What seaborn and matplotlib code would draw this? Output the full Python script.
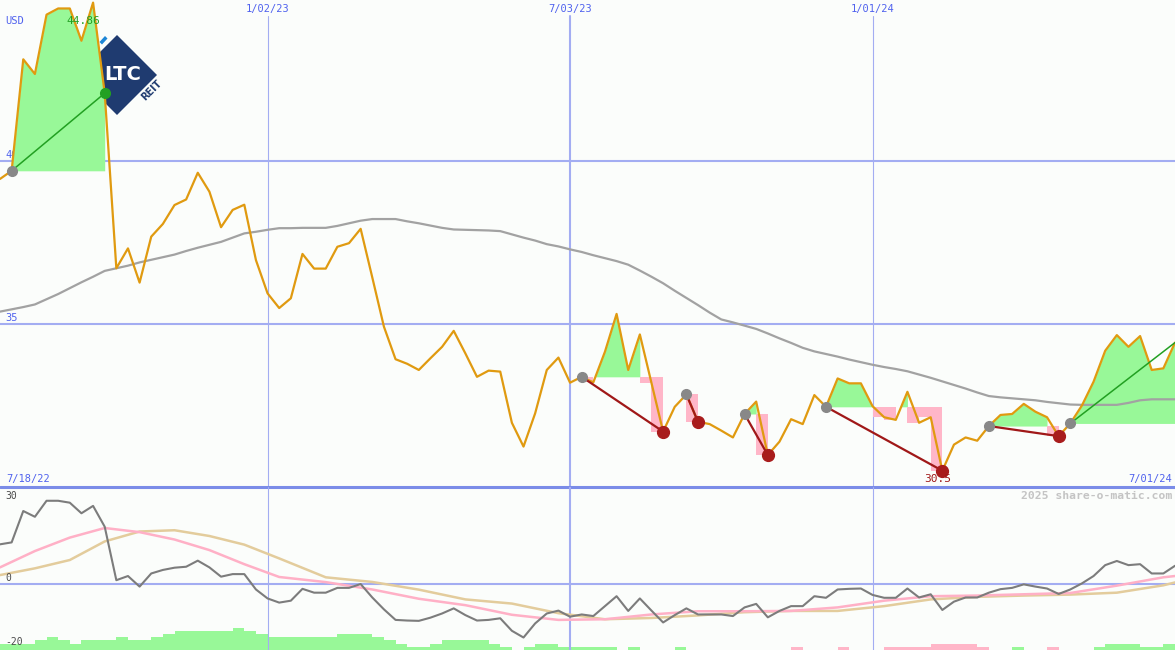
import numpy as np
import pandas as pd
import seaborn as sns
import matplotlib.pyplot as plt
import matplotlib.dates as mdates
from matplotlib.patches import Polygon

# weekly close, USD, one value per monday from 2022-07-25
price = [39.45, 39.70, 43.12, 42.67, 44.49, 44.68, 44.68, 43.69, 44.86, 42.08,
         36.71, 37.32, 36.27, 37.68, 38.07, 38.65, 38.82, 39.64, 39.06, 37.97,
         38.50, 38.66, 36.96, 35.94, 35.49, 35.79, 37.15, 36.70, 36.70, 37.37,
         37.48, 37.92, 36.43, 34.92, 33.92, 33.78, 33.59, 33.95, 34.30, 34.79,
         34.10, 33.38, 33.57, 33.54, 31.97, 31.24, 32.26, 33.59, 33.97, 33.20,
         33.38, 33.21, 34.15, 35.31, 33.59, 34.68, 33.19, 31.70, 32.46, 32.84,
         32.00, 31.93, 31.73, 31.52, 32.24, 32.62, 30.98, 31.39, 32.08, 31.93,
         32.82, 32.46, 33.33, 33.18, 33.18, 32.48, 32.14, 32.06, 32.92, 31.97,
         32.14, 30.50, 31.30, 31.52, 31.42, 31.87, 32.21, 32.24, 32.55, 32.31,
         32.14, 31.56, 31.95, 32.50, 33.23, 34.18, 34.66, 34.30, 34.63, 33.59,
         33.64, 34.43]

# slow moving average of the close (grey line)
ma_line = [35.38, 35.45, 35.52, 35.60, 35.76, 35.92, 36.10, 36.28, 36.45, 36.63,
           36.71, 36.79, 36.89, 36.97, 37.05, 37.13, 37.24, 37.34, 37.43, 37.52,
           37.65, 37.78, 37.83, 37.89, 37.94, 37.94, 37.95, 37.95, 37.95, 38.01,
           38.09, 38.17, 38.22, 38.22, 38.22, 38.15, 38.09, 38.02, 37.95, 37.90,
           37.89, 37.88, 37.87, 37.85, 37.75, 37.65, 37.56, 37.45, 37.38, 37.29,
           37.21, 37.11, 37.02, 36.93, 36.82, 36.64, 36.45, 36.25, 36.02, 35.80,
           35.58, 35.35, 35.14, 35.05, 34.95, 34.85, 34.71, 34.56, 34.42, 34.27,
           34.16, 34.08, 34.00, 33.91, 33.83, 33.75, 33.68, 33.62, 33.55, 33.45,
           33.35, 33.24, 33.13, 33.02, 32.90, 32.79, 32.75, 32.72, 32.69, 32.66,
           32.61, 32.57, 32.53, 32.52, 32.52, 32.52, 32.52, 32.58, 32.66, 32.69,
           32.69, 32.69]

# oscillator in the lower panel (dark grey)
momentum = [12.4, 13.0, 22.8, 21.0, 26.0, 26.0, 25.4, 22.1, 24.4, 17.9,
            1.2, 2.5, -0.8, 3.3, 4.4, 5.1, 5.4, 7.3, 5.2, 2.3,
            3.1, 3.1, -1.7, -4.5, -5.8, -5.2, -1.5, -2.7, -2.7, -1.2,
            -1.2, 0.0, -4.2, -7.9, -11.2, -11.4, -11.5, -10.5, -9.2, -7.6,
            -9.7, -11.4, -11.2, -10.7, -14.6, -16.7, -12.3, -9.2, -8.3, -10.2,
            -9.5, -10.0, -6.9, -3.8, -8.4, -4.5, -8.3, -12.0, -9.7, -7.6,
            -9.5, -9.5, -9.5, -10.0, -7.3, -6.2, -10.4, -8.4, -6.9, -6.9,
            -3.8, -4.3, -1.7, -1.5, -1.4, -3.4, -4.3, -4.3, -1.4, -4.2,
            -3.2, -8.1, -5.5, -4.2, -4.2, -2.7, -1.6, -1.2, -0.1, -0.8,
            -1.4, -3.1, -1.7, 0.2, 2.5, 5.9, 7.2, 5.9, 6.2, 3.3,
            3.3, 5.7]

# the two smooth averages of the oscillator, read every few weeks
slow_weeks = [0, 3, 6, 9, 12, 15, 18, 21, 24, 28, 32, 36, 40, 44, 48,
              52, 56, 60, 64, 68, 72, 76, 80, 84, 88, 92, 96, 100, 101]
slow_pink = [5.2, 10.3, 14.5, 17.5, 16.2, 13.9, 10.6, 6.2, 2.2, 0.6,
             -1.7, -4.6, -6.6, -9.6, -11.2, -11.0, -9.5, -8.5, -8.5, -8.4,
             -7.3, -5.2, -3.8, -3.6, -3.2, -2.8, -0.5, 2.1, 2.5]
slow_tan = [2.8, 4.9, 7.5, 13.3, 16.4, 16.8, 15.0, 12.3, 8.0, 2.1,
            0.65, -1.75, -4.8, -6.1, -9.1, -11.0, -10.6, -9.8, -8.8, -8.4,
            -8.4, -6.9, -4.8, -4.0, -3.6, -3.3, -2.7, -0.4, 0.5]

# weekly histogram at the foot of the lower panel (+ green, - pink)
hist = [2, 2, 2, 3, 4, 3, 2, 3, 3, 3,
        4, 3, 3, 4, 5, 6, 6, 6, 6, 6,
        7, 6, 5, 4, 4, 4, 4, 4, 4, 5,
        5, 5, 4, 3, 2, 1, 1, 2, 3, 3,
        3, 3, 2, 1, 0, 1, 2, 2, 1, 1,
        1, 1, 1, 0, 1, 0, 0, 0, 1, 0,
        0, 0, 0, 0, 0, 0, 0, 0, -1, 0,
        0, 0, -1, 0, 0, 0, -1, -1, -1, -1,
        -2, -2, -2, -2, -1, 0, 0, 1, 0, 0,
        -1, 0, 0, 0, 1, 2, 2, 2, 1, 1,
        2]

# signals: entry week index, exit week index (last one still open)
trade_start = [1, 50, 59, 64, 71, 85, 92]
trade_end = [9, 57, 60, 66, 81, 91, 101]

price_grid = [35, 40]
osc_grid = [30, 0, -20]
date_marks = ["2023-01-02", "2023-07-03", "2024-01-01"]
date_labels = ["1/02/23", "7/03/23", "1/01/24"]
range_labels = ["7/18/22", "7/01/24"]

weeks = pd.date_range("2022-07-25", periods=len(price), freq="7D")
xnum = mdates.date2num(weeks)
df = pd.DataFrame({"week": weeks, "price": price, "ma": ma_line, "mom": momentum})
slow = pd.DataFrame({"week": weeks[slow_weeks], "pink": slow_pink, "tan": slow_tan})

BG = "#fbfdfb"
GRID = "#a3adf2"
BLUE_TXT = "#5062ee"
GREEN_FILL = "#98f898"
PINK_FILL = "#ffb6c8"
ORANGE = "#e09a10"
NAVY = "#1f3b70"

sns.set_theme(style="white")
plt.rcParams["font.family"] = ["DejaVu Sans Mono", "DejaVu Sans"]

fig = plt.figure(figsize=(11.75, 6.5), dpi=100, facecolor=BG)

# pixel layer under the price panel: logo and fixed captions
bg = fig.add_axes([0, 0, 1, 1], zorder=0)
bg.set_xlim(0, 1175)
bg.set_ylim(650, 0)
bg.set_axis_off()
bg.add_patch(Polygon([(117, 35), (157, 75), (117, 115), (77, 75)], closed=True, color=NAVY, lw=0))
bg.add_patch(Polygon([(99.5, 42), (105, 36), (107.5, 38.5), (102, 44.5)], closed=True, color="#1d86d6", lw=0))
bg.text(123, 75, "LTC", color="white", fontsize=14, fontweight="bold", family="DejaVu Sans",
        ha="center", va="center")
bg.text(152, 90, "REIT", color=NAVY, fontsize=7, fontweight="bold", family="DejaVu Sans",
        rotation=45, ha="center", va="center")
bg.text(5, 21, "USD", color=BLUE_TXT, fontsize=7.5, va="center")
bg.text(6, 479, range_labels[0], color=BLUE_TXT, fontsize=7.5, va="center")
bg.text(1172, 479, range_labels[1], color=BLUE_TXT, fontsize=7.5, va="center", ha="right")
bg.text(1172, 496, "2025 share-o-matic.com", color="#c4c4c4", fontsize=8.2, fontweight="bold",
        va="center", ha="right")

# ---------------- price panel ----------------
ax1 = fig.add_axes([0, 163 / 650, 1, 487 / 650], zorder=1)
ax1.patch.set_visible(False)

for v in price_grid:
    ax1.axhline(v, color=GRID, lw=1.5, zorder=1)
    ax1.annotate(str(v), xy=(0, v), xycoords=ax1.get_yaxis_transform(), xytext=(5, 6),
                 textcoords="offset pixels", va="center", color=BLUE_TXT, fontsize=7.5, zorder=0)
for k, (d, lab) in enumerate(zip(date_marks, date_labels)):
    dn = mdates.date2num(pd.Timestamp(d))
    ax1.axvline(dn, ymax=1 - 16 / 487, color=GRID, lw=1.5 if k == 1 else 0.8, zorder=1)
    ax1.annotate(lab, xy=(dn, 1), xycoords=ax1.get_xaxis_transform(), xytext=(0, -9),
                 textcoords="offset pixels", ha="center", va="center", color=BLUE_TXT, fontsize=7.5)

# gain / loss shading of each signal: one outline per trade so there are no seams
for s, e in zip(trade_start, trade_end):
    base = price[s]
    gx, gy, px, py = [], [], [], []
    for i in range(s, e):
        x0, x1 = xnum[i], xnum[i + 1]
        p0, p1 = price[i], price[i + 1]
        if p1 >= base:
            if p0 >= base:
                gx += [x0, x1]; gy += [p0, p1]
            else:
                xc = x0 + (base - p0) / (p1 - p0) * (x1 - x0)
                gx += [x0, xc, x1]; gy += [base, base, p1]
            px += [x0, x1]; py += [base, base]
        else:
            gx += [x0, x1]; gy += [base, base]
            px += [x0, x1]; py += [p1, p1]
    ax1.fill_between(gx, gy, base, color=GREEN_FILL, lw=0, zorder=2)
    ax1.fill_between(px, py, base, color=PINK_FILL, lw=0, zorder=2)

sns.lineplot(data=df, x="week", y="ma", color="#a2a2a2", lw=1.6, ax=ax1, zorder=3)
sns.lineplot(data=df, x="week", y="price", color=ORANGE, lw=1.6, ax=ax1, zorder=4)

for s, e in zip(trade_start, trade_end):
    won = price[e] >= price[s]
    ax1.plot(xnum[[s, e]], [price[s], price[e]], color="#22a022" if won else "#a01818",
             lw=1.1 if won else 1.6, zorder=5)
    ax1.plot(xnum[s], price[s], "o", color="#888888", ms=7, zorder=6)
    if e < len(price) - 1:
        ax1.plot(xnum[e], price[e], "o", color="#22a022" if won else "#a81c1c",
                 ms=7 if won else 8.5, zorder=6)

imax = int(np.argmax(price))
imin = int(np.argmin(price))
ax1.annotate(f"{price[imax]:g}", xy=(xnum[imax], price[imax]), xytext=(-9.5, -18.5),
             textcoords="offset pixels", ha="center", va="center", color="#22a022", fontsize=8, zorder=7)
ax1.annotate(f"{price[imin]:g}", xy=(xnum[imin], price[imin]), xytext=(-5, -8.5),
             textcoords="offset pixels", ha="center", va="center", color="#a01818", fontsize=8, zorder=7)

ax1.axhline(30.0, color="#7b8ce8", lw=2.2, zorder=3, clip_on=False)
ax1.set_xlim(xnum[0], xnum[-1])
ax1.set_ylim(30.0, 44.94)
ax1.set_axis_off()

# ---------------- oscillator panel ----------------
ax2 = fig.add_axes([0, 0, 1, 163 / 650], zorder=1)
ax2.patch.set_visible(False)
y_lo, y_hi = -20.6, 30.3

hist_arr = np.array(hist)
ax2.bar(xnum[:-1], np.abs(hist_arr), width=7, align="edge", bottom=y_lo,
        color=[GREEN_FILL if h > 0 else PINK_FILL for h in hist_arr], lw=0,
        antialiased=False, zorder=1)
ax2.axhline(0, color=GRID, lw=1.5, zorder=1)
for k, d in enumerate(date_marks):
    ax2.axvline(mdates.date2num(pd.Timestamp(d)), color=GRID, lw=1.5 if k == 1 else 0.8, zorder=1)

sns.lineplot(data=slow, x="week", y="tan", color="#e3cc9c", lw=1.8, ax=ax2, zorder=2)
sns.lineplot(data=slow, x="week", y="pink", color="#ffb0c6", lw=1.8, ax=ax2, zorder=2)
sns.lineplot(data=df, x="week", y="mom", color="#7c7c7c", lw=1.5, ax=ax2, zorder=3)

for v in osc_grid:
    off = -8 if v == max(osc_grid) else 6
    ax2.annotate(str(v), xy=(0, v), xycoords=ax2.get_yaxis_transform(), xytext=(5, off),
                 textcoords="offset pixels", va="center", color="#4a4a4a", fontsize=7, zorder=5)

ax2.set_xlim(xnum[0], xnum[-1])
ax2.set_ylim(y_lo, y_hi)
ax2.set_axis_off()

fig.savefig("out.png", dpi=100, facecolor=BG)
